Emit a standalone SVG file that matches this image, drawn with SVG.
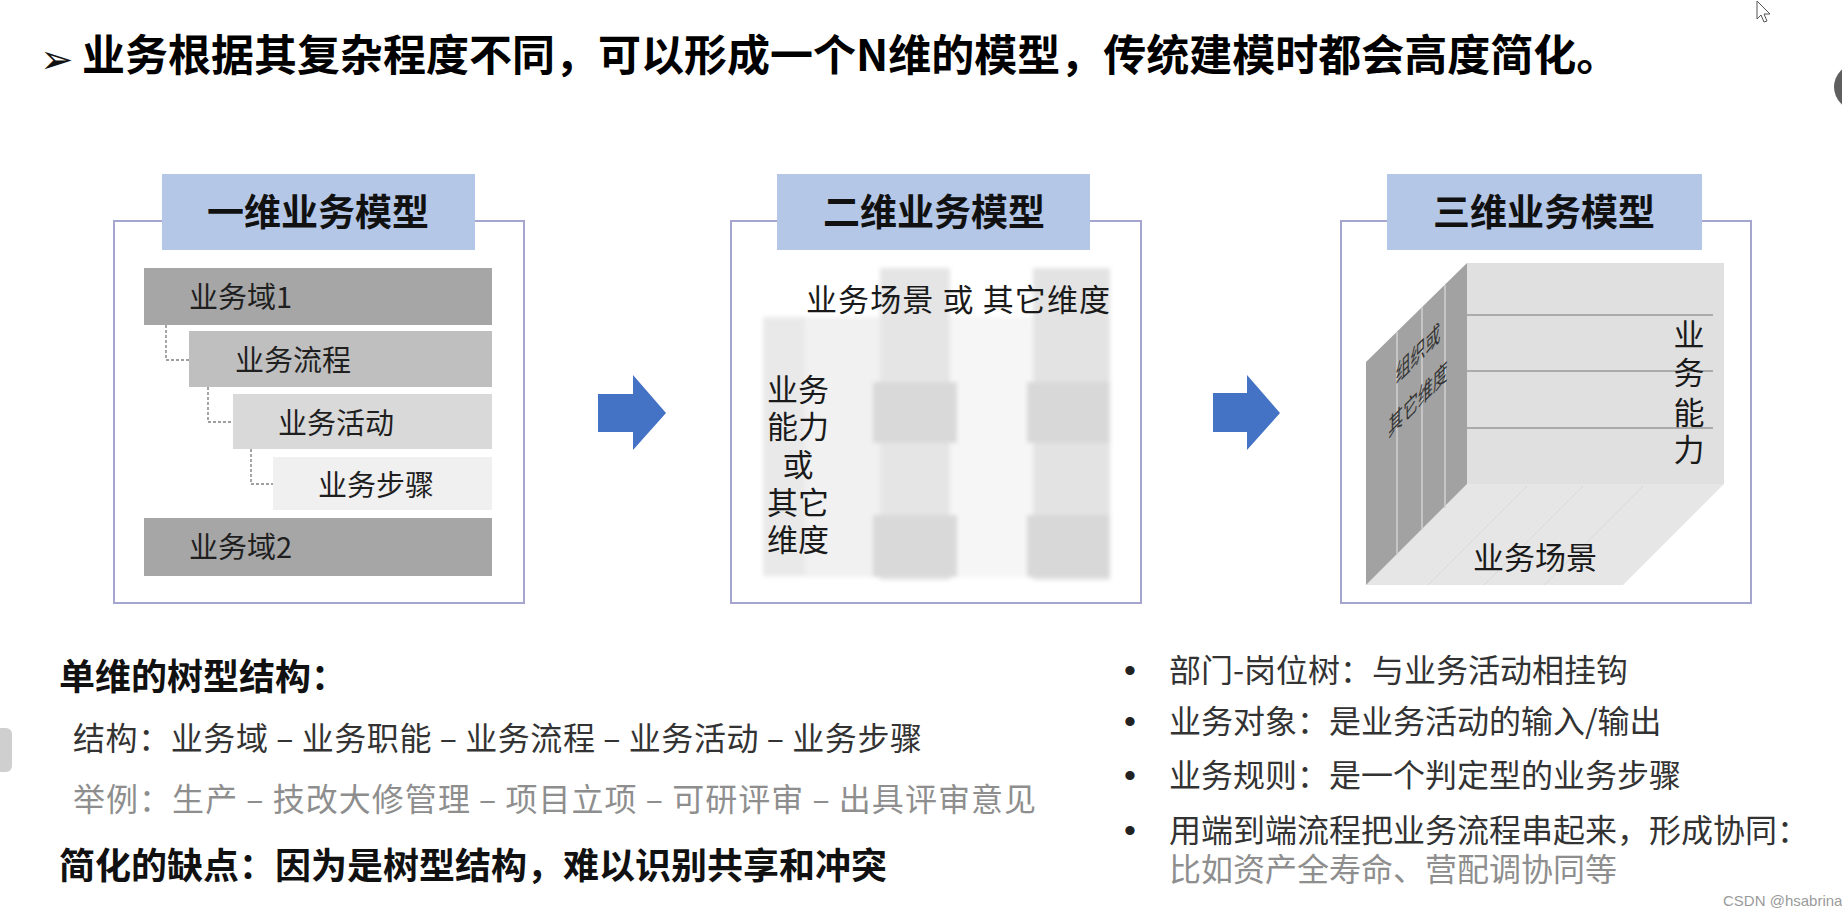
<svg xmlns="http://www.w3.org/2000/svg" width="1842" height="918" viewBox="0 0 1842 918">
<style>
.cjk{font-family:"Noto Sans CJK SC","Liberation Sans",sans-serif}
.h1{font-size:43px;font-weight:700;fill:#000}
.panel{fill:none;stroke:#a4a6cf;stroke-width:2}
.tab{fill:#b4c7e7}
.tabtxt{font-size:37px;font-weight:700;fill:#111;text-anchor:middle}
.lbl{font-size:29px;fill:#1f1f1f}
.lbl2{font-size:31px;fill:#1a1a1a}
.mid{text-anchor:middle}
.tree{fill:none;stroke:#808080;stroke-width:1.4;stroke-dasharray:3 2}
.arrow{fill:#4472c4}
.bold{font-size:36px;font-weight:700;fill:#111}
.body{font-size:32px;fill:#333}
.grey{font-size:32px;fill:#8e8e8e}
.bul{font-family:"Liberation Sans",sans-serif;font-size:34px;fill:#222}
</style>
<defs>
<filter id="soft" x="-10%" y="-10%" width="120%" height="120%"><feGaussianBlur stdDeviation="2.2"/></filter>
</defs>
<rect width="1842" height="918" fill="#fff"/>

<g id="title">
<text x="40" y="73" style="font-family:'DejaVu Sans',sans-serif;font-size:40px;fill:#111">➢</text>
<text class="cjk h1" x="82" y="71">业务根据其复杂程度不同，可以形成一个N维的模型，传统建模时都会高度简化。</text>
</g>

<g id="panel1">
<rect class="panel" x="114" y="221" width="410" height="382"/>
<rect class="tab" x="162" y="174" width="313" height="76"/>
<text class="cjk tabtxt" x="318" y="226">一维业务模型</text>
<g id="p1-domain1"><rect x="144" y="268" width="348" height="57" fill="#a6a6a6"/><text class="cjk lbl" x="189" y="308">业务域1</text></g>
<g id="p1-process"><rect x="189" y="331" width="303" height="56" fill="#bfbfbf"/><text class="cjk lbl" x="235" y="371">业务流程</text></g>
<g id="p1-activity"><rect x="233" y="394" width="259" height="55" fill="#d9d9d9"/><text class="cjk lbl" x="278" y="434">业务活动</text></g>
<g id="p1-step"><rect x="273" y="457" width="219" height="53" fill="#f0f0f0"/><text class="cjk lbl" x="318" y="496">业务步骤</text></g>
<g id="p1-domain2"><rect x="144" y="518" width="348" height="58" fill="#a6a6a6"/><text class="cjk lbl" x="189" y="558">业务域2</text></g>
</g>

<g id="panel2">
<rect class="panel" x="731" y="221" width="410" height="382"/>
<rect class="tab" x="777" y="174" width="313" height="76"/>
<text class="cjk tabtxt" x="934" y="226">二维业务模型</text>
<g id="p2-grid" filter="url(#soft)">
<rect x="763" y="317" width="347" height="260" fill="#f1f1f1"/>
<rect x="763" y="317" width="42" height="258" fill="#e9e9e9"/>
<rect x="950" y="317" width="83" height="260" fill="#f6f6f6"/>
<rect x="880" y="268" width="70" height="312" fill="#e5e5e5"/>
<rect x="1033" y="268" width="77" height="312" fill="#e3e3e3"/>
<rect x="873" y="382" width="84" height="61" fill="#d9d9d9"/>
<rect x="873" y="515" width="84" height="62" fill="#d9d9d9"/>
<rect x="1027" y="382" width="83" height="61" fill="#d8d8d8"/>
<rect x="1027" y="515" width="83" height="62" fill="#d8d8d8"/>
</g>
<text class="cjk lbl2" x="806" y="311" textLength="304" lengthAdjust="spacing">业务场景 或 其它维度</text>
<text class="cjk lbl2 mid"><tspan x="798" y="401">业务</tspan><tspan x="798" y="438">能力</tspan><tspan x="798" y="476">或</tspan><tspan x="798" y="514">其它</tspan><tspan x="798" y="551">维度</tspan></text>
</g>

<g id="panel3">
<rect class="panel" x="1341" y="221" width="410" height="382"/>
<rect class="tab" x="1387" y="174" width="315" height="76"/>
<text class="cjk tabtxt" x="1544" y="226">三维业务模型</text>
<g id="p3-cube">
<polygon points="1366,585 1467,484 1724,484 1623,585" fill="#e6e6e6"/>
<g stroke="#d8d8d8" stroke-width="1">
<line x1="1527" y1="486" x2="1428" y2="585"/>
<line x1="1583" y1="486" x2="1484" y2="585"/>
<line x1="1643" y1="486" x2="1544" y2="585"/>
</g>
<polygon points="1366,362 1467,263 1467,484 1366,585" fill="#a2a2a2"/>
<g stroke="#d0d0d0" stroke-width="1.5">
<line x1="1397" y1="332" x2="1397" y2="555"/>
<line x1="1422" y1="307" x2="1422" y2="530"/>
<line x1="1445" y1="285" x2="1445" y2="508"/>
</g>
<rect x="1467" y="263" width="257" height="221" fill="#e0e0e0"/>
<g stroke="#9a9a9a" stroke-width="1.5">
<line x1="1467" y1="315" x2="1713" y2="315"/>
<line x1="1467" y1="371" x2="1713" y2="371"/>
<line x1="1467" y1="428" x2="1713" y2="428"/>
</g>
</g>
<text class="cjk" style="font-size:24px;fill:#333" text-anchor="middle" transform="matrix(0.62,-0.62,0,1,1418,362)"><tspan x="0" y="0">组织或</tspan><tspan x="0" y="46">其它维度</tspan></text>
<text class="cjk lbl2" x="1473" y="569">业务场景</text>
<text class="cjk lbl2 mid"><tspan x="1689" y="346">业</tspan><tspan x="1689" y="384">务</tspan><tspan x="1689" y="424">能</tspan><tspan x="1689" y="461">力</tspan></text>
</g>

<g id="connectors">
<polyline class="tree" points="166,325 166,360 189,360"/>
<polyline class="tree" points="208,387 208,422 233,422"/>
<polyline class="tree" points="251,449 251,484 273,484"/>
<polygon class="arrow" points="598,394 633,394 633,375 666,413 633,450 633,432 598,432"/>
<polygon class="arrow" points="1213,393 1247,393 1247,375 1280,413 1247,450 1247,432 1213,432"/>
</g>

<g id="notes-left">
<text class="cjk bold" x="59" y="690">单维的树型结构：</text>
<text class="cjk body" x="73" y="750" textLength="849" lengthAdjust="spacing">结构：业务域 – 业务职能 – 业务流程 – 业务活动 – 业务步骤</text>
<text class="cjk grey" x="73" y="811" textLength="963" lengthAdjust="spacing">举例：生产 – 技改大修管理 – 项目立项 – 可研评审 – 出具评审意见</text>
<text class="cjk bold" x="59" y="879">简化的缺点：因为是树型结构，难以识别共享和冲突</text>
</g>

<g id="notes-right">
<text class="bul" x="1124" y="682">•</text>
<text class="cjk body" x="1169" y="682">部门-岗位树：与业务活动相挂钩</text>
<text class="bul" x="1124" y="733">•</text>
<text class="cjk body" x="1169" y="733">业务对象：是业务活动的输入/输出</text>
<text class="bul" x="1124" y="787">•</text>
<text class="cjk body" x="1169" y="787">业务规则：是一个判定型的业务步骤</text>
<text class="bul" x="1124" y="842">•</text>
<text class="cjk body" x="1169" y="842">用端到端流程把业务流程串起来，形成协同：</text>
<text class="cjk grey" x="1169" y="881">比如资产全寿命、营配调协同等</text>
</g>

<g id="screen-artifacts">
<text x="1723" y="906" style="font-family:'Liberation Sans',sans-serif;font-size:15px;fill:#9a9a9a">CSDN @hsabrina</text>
<circle cx="1857" cy="87" r="23" fill="#5f5f5f"/>
<rect x="-8" y="728" width="20" height="44" rx="6" fill="#cfcfcf"/>
<path d="M1757,1 L1757,19 L1761,15 L1764,22 L1767,21 L1764,14 L1770,14 Z" fill="#fff" stroke="#555" stroke-width="1"/>
</g>
</svg>
